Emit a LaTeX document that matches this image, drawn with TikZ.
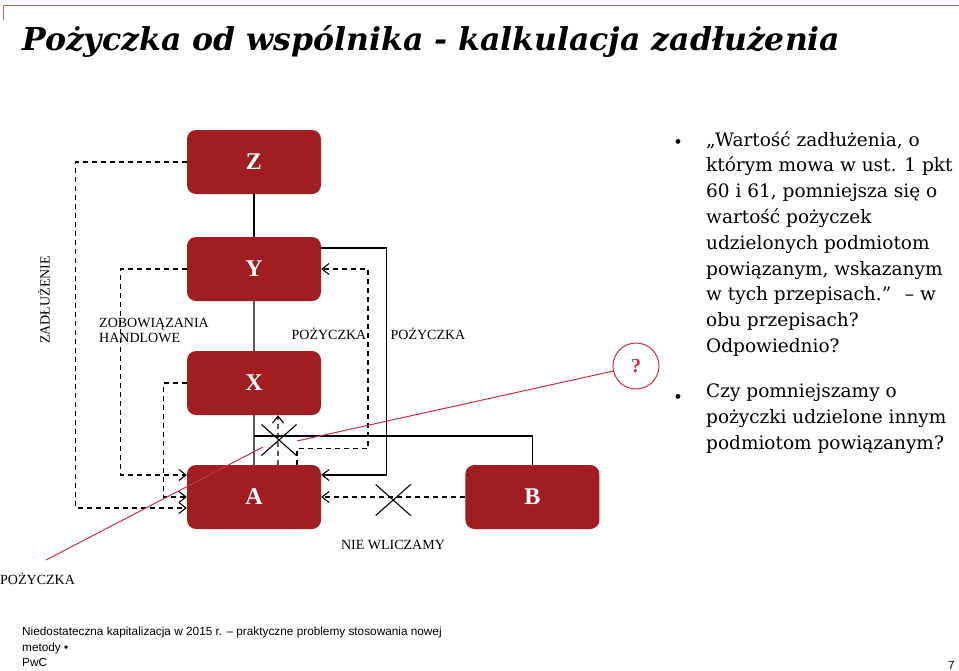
\documentclass[tikz,border=0pt]{standalone}
\usepackage{fontspec}
\usepackage{tikz}
\usepackage{xcolor}
\usetikzlibrary{positioning,calc,arrows.meta,shapes.misc}
\setmainfont{Liberation Serif}
\newfontfamily\footfont{Liberation Sans}
\newfontfamily\widefont{DejaVu Serif}
\definecolor{boxred}{RGB}{160,29,34}
\definecolor{linered}{RGB}{205,45,65}
\definecolor{rulebrown}{RGB}{175,110,100}

\begin{document}
\begin{tikzpicture}[x=1pt,y=-1pt,
                    box/.style={rectangle,rounded corners=9pt,fill=boxred,draw=none,
                                minimum width=134pt,minimum height=64pt,
                                text=white,font=\fontsize{24}{24}\selectfont\bfseries},
                    level 1/.style={level distance=107pt},
                    level 2/.style={level distance=114pt},
                    level 3/.style={level distance=114pt},
                    edge from parent/.style={draw,line width=1.1pt},
                    lbl/.style={font=\fontsize{14}{15}\selectfont,inner sep=0pt},
                    bodytext/.style={anchor=base west,inner sep=0pt,align=left,font=\widefont\fontsize{18.5}{25.8}\selectfont},
                    dline/.style={dash pattern=on 5pt off 4pt,line width=1.1pt,-{Straight Barb[length=7pt,width=11pt]}},
                    sline/.style={line width=1.1pt,-{Straight Barb[length=7pt,width=11pt]}},
                    nope/.style={draw,cross out,line width=1.1pt,minimum width=34pt,minimum height=30pt,inner sep=0pt},
                    callout/.style={linered,line width=1pt}]
    \useasboundingbox (0,0) rectangle (959,670);
    \draw[rulebrown,line width=0.8pt] (3,20) -- (3,5) -- (959,5);
    \node[anchor=base west,inner sep=0pt,font=\widefont\fontsize{31.5}{32}\selectfont\bfseries\itshape] (title) at (22,50)
        {Pożyczka od wspólnika  - kalkulacja zadłużenia};

    \node[box] (z) at (254,162) {Z}
        child {node[box] (y) {Y}
            child {node[box] (x) {X}
                child {node[box] (a) {A}}
            }
        };
    \node[box,right=144pt of a] (b) {B};

    \coordinate (j) at ($(x.south)!0.42!(a.north)$);
    \draw[dline] (z.west) -- ++(-111,0) |- ($(a.west)+(0,11)$);
    \draw[dline] (y.west) -- ++(-66,0) |- ($(a.west)+(0,-22)$);
    \draw[dline] (x.west) -- ++(-23,0) |- (a.west);
    \draw[sline] ($(y.east)+(0,-21)$) -- ++(65,0) |- ($(a.east)+(0,-22)$);
    \draw[dline] ($(a.north)+(43,0)$) -- ++(0,-16) -- ++(71,0) |- (y.east);
    \draw[dline] ($(a.north)+(24,0)$) -- ($(x.south)+(24,0)$);
    \draw[line width=1.1pt] (b.north) |- (j);
    \draw[dline] (b.west) -- (a.east);
    \node[nope] (c1) at (279,440) {};
    \node[nope] (c2) at ($(a.east)!0.5!(b.west)+(0,3)$) {};

    \node[lbl,rotate=90] (zad) at (44,300) {ZADŁUŻENIE};
    \node[lbl,align=left,anchor=west] (zob) at (99,330) {ZOBOWIĄZANIA\\HANDLOWE};
    \node[lbl] (p1) at (329,334) {POŻYCZKA};
    \node[lbl] (p2) at (428,334) {POŻYCZKA};
    \node[lbl] (nw) at (393,545) {NIE WLICZAMY};
    \node[lbl,anchor=west] (p3) at (0,579) {POŻYCZKA};

    \node[circle,draw=linered,line width=1pt,minimum size=46pt,text=linered,
          font=\fontsize{20}{20}\selectfont\bfseries] (q) at (636,366) {?};
    \coordinate (t1) at (297,441);
    \coordinate (t2) at (263,447);
    \coordinate (t3) at (46,560);
    \draw[callout] (q) -- (t1);
    \draw[callout] (t2) -- (t3);

    % base anchor = baseline of the last line
    \node[bodytext] (txt1) at (706,352.5)
        {„Wartość zadłużenia, o\\którym mowa w ust. 1 pkt\\60 i 61, pomniejsza się o\\wartość pożyczek\\udzielonych podmiotom\\powiązanym, wskazanym\\w tych przepisach.” \ – w\\obu przepisach?\\Odpowiednio?};
    \node[bodytext] (txt2) at (706,449.5)
        {Czy pomniejszamy o\\pożyczki udzielone innym\\podmiotom powiązanym?};
    \node[font=\fontsize{20}{20}\selectfont] (bul1) at (678,144) {•};
    \node[font=\fontsize{20}{20}\selectfont] (bul2) at (678,399) {•};

    \node[anchor=north west,inner sep=0pt,align=left,font=\footfont\fontsize{11.8}{15.5}\selectfont] (foot) at (22,627)
        {Niedostateczna kapitalizacja w 2015 r. – praktyczne problemy stosowania nowej\\metody •\\PwC};
    \node[anchor=base east,inner sep=0pt,font=\footfont\fontsize{11.8}{15.5}\selectfont] (pg) at (955,669) {7};
\end{tikzpicture}
\end{document}
